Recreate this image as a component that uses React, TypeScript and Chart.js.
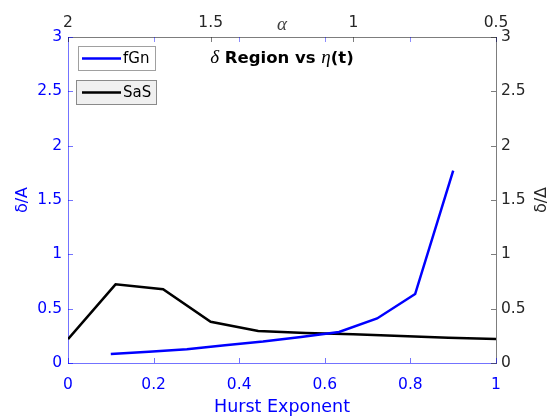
import { useEffect, useRef } from 'react';
import { Chart, registerables } from 'chart.js';

Chart.register(...registerables);

// ---- data ----
const hurstFGn = [0.1, 0.1889, 0.2778, 0.3667, 0.4556, 0.5444, 0.6333, 0.7222, 0.8111, 0.9];
const deltaFGn = [0.083, 0.104, 0.126, 0.164, 0.198, 0.24, 0.286, 0.41, 0.635, 1.77];
const hurstSaS = [0, 0.1111, 0.2222, 0.3333, 0.4444, 0.5556, 0.6667, 0.7778, 0.8889, 1];
const deltaSaS = [0.22, 0.724, 0.678, 0.38, 0.294, 0.277, 0.264, 0.248, 0.233, 0.221];
const alphaTicks = [2, 1.5, 1, 0.5];
const seriesNames = ['fGn', 'SaS'];
const seriesColors = ['#0000ff', '#000000'];

const SANS = '"DejaVu Sans", sans-serif';
const SERIF = '"Liberation Serif", serif';
const AXIS_GREY = '#262626';

const fmt = (v: any) => String(Number(Number(v).toFixed(2)));

const inwardTicks = {
  id: 'inwardTicks',
  afterDatasetsDraw(chart: any) {
    const { ctx, chartArea: a, scales } = chart;
    const L = 5;
    ctx.save();
    ctx.lineWidth = 1;
    const seg = (x1: number, y1: number, x2: number, y2: number, c: string) => {
      ctx.strokeStyle = c;
      ctx.beginPath();
      ctx.moveTo(x1, y1);
      ctx.lineTo(x2, y2);
      ctx.stroke();
    };
    const xb = scales.x;
    xb.ticks.forEach((t: any) => {
      const px = Math.round(xb.getPixelForValue(t.value)) + 0.5;
      seg(px, a.bottom, px, a.bottom - L, 'rgba(0,0,255,0.55)');
      seg(px, a.top, px, a.top + L, 'rgba(0,0,255,0.45)');
    });
    const xt = scales.xTop;
    xt.ticks.forEach((t: any) => {
      const px = Math.round(xt.getPixelForValue(t.value)) + 0.5;
      seg(px, a.top, px, a.top + L, 'rgba(38,38,38,0.6)');
    });
    const yl = scales.y;
    yl.ticks.forEach((t: any) => {
      const py = Math.round(yl.getPixelForValue(t.value)) + 0.5;
      seg(a.left, py, a.left + L, py, 'rgba(0,0,255,0.55)');
    });
    const yr = scales.yRight;
    yr.ticks.forEach((t: any) => {
      const py = Math.round(yr.getPixelForValue(t.value)) + 0.5;
      seg(a.right, py, a.right - L, py, 'rgba(38,38,38,0.6)');
    });
    ctx.restore();
  },
};

const decorations = {
  id: 'decorations',
  afterDraw(chart: any) {
    const { ctx, chartArea: a } = chart;
    ctx.save();
    // title inside plot area
    const parts = [
      { t: '\u03B4', f: `italic 19px ${SERIF}` },
      { t: ' Region vs ', f: `bold 16.5px ${SANS}` },
      { t: '\u03B7', f: `italic 19px ${SERIF}` },
      { t: '(t)', f: `bold 16.5px ${SANS}` },
    ];
    let total = 0;
    const widths = parts.map((p) => {
      ctx.font = p.f;
      const w = ctx.measureText(p.t).width;
      total += w;
      return w;
    });
    let x = (a.left + a.right) / 2 - total / 2;
    ctx.fillStyle = '#000';
    ctx.textBaseline = 'alphabetic';
    ctx.textAlign = 'left';
    parts.forEach((p, i) => {
      ctx.font = p.f;
      ctx.fillText(p.t, x, 63);
      x += widths[i];
    });

    // legend boxes
    const boxes = [
      { x: 78.5, y: 46.5, w: 77, h: 24, fill: '#ffffff', stroke: '#a0a0a0' },
      { x: 76.5, y: 80.5, w: 80, h: 24, fill: '#f0f0f0', stroke: '#8a8a8a' },
    ];
    boxes.forEach((b, i) => {
      ctx.fillStyle = b.fill;
      ctx.fillRect(b.x, b.y, b.w, b.h);
      ctx.strokeStyle = b.stroke;
      ctx.lineWidth = 1;
      ctx.strokeRect(b.x, b.y, b.w, b.h);
      const cy = b.y + b.h / 2;
      ctx.strokeStyle = seriesColors[i];
      ctx.lineWidth = 2.5;
      ctx.beginPath();
      ctx.moveTo(82, cy);
      ctx.lineTo(121, cy);
      ctx.stroke();
      ctx.fillStyle = '#000';
      ctx.font = `15px ${SANS}`;
      ctx.textBaseline = 'middle';
      ctx.fillText(seriesNames[i], 123, cy + 0.5);
    });

    // right axis title, reading bottom to top
    ctx.save();
    ctx.translate(541.5, 200);
    ctx.rotate(-Math.PI / 2);
    ctx.fillStyle = AXIS_GREY;
    ctx.font = `16px ${SANS}`;
    ctx.textAlign = 'center';
    ctx.textBaseline = 'middle';
    ctx.fillText('\u03B4/\u0394', 0, 0);
    ctx.restore();
    ctx.restore();
  },
};

export default function App() {
  const ref = useRef<HTMLCanvasElement>(null);
  useEffect(() => {
    document.body.style.margin = '0';
    const c = ref.current;
    if (!c) return;
    const tickFont = { family: SANS, size: 15.5 };
    const chart = new Chart(c, {
      type: 'line',
      data: {
        datasets: [
          {
            label: seriesNames[0],
            data: hurstFGn.map((h, i) => ({ x: h, y: deltaFGn[i] })),
            borderColor: seriesColors[0],
            backgroundColor: seriesColors[0],
            borderWidth: 2.5,
            pointRadius: 0,
            yAxisID: 'y',
            xAxisID: 'x',
          },
          {
            label: seriesNames[1],
            data: hurstSaS.map((h, i) => ({ x: h, y: deltaSaS[i] })),
            borderColor: seriesColors[1],
            backgroundColor: seriesColors[1],
            borderWidth: 2.5,
            pointRadius: 0,
            yAxisID: 'yRight',
            xAxisID: 'x',
          },
        ],
      },
      options: {
        responsive: false,
        animation: false,
        layout: { padding: 0 },
        plugins: { legend: { display: false }, tooltip: { enabled: false }, title: { display: false } },
        scales: {
          x: {
            type: 'linear',
            position: 'bottom',
            min: 0,
            max: 1,
            ticks: { stepSize: 0.2, color: '#0000ff', font: tickFont, padding: 13, maxRotation: 0, callback: fmt },
            grid: { drawOnChartArea: false, drawTicks: false },
            border: { color: 'rgba(0,0,255,0.55)' },
            title: { display: true, text: 'Hurst Exponent', color: '#0000ff', font: { family: SANS, size: 17.5 }, padding: 2 },
            afterFit: (s: any) => { s.height = 57; },
          },
          xTop: {
            type: 'linear',
            position: 'top',
            min: 0.5,
            max: 2,
            reverse: true,
            afterBuildTicks: (s: any) => { s.ticks = alphaTicks.map((v) => ({ value: v })); },
            ticks: { color: AXIS_GREY, font: tickFont, padding: 5, maxRotation: 0, callback: fmt },
            grid: { drawOnChartArea: false, drawTicks: false },
            border: { color: 'rgba(38,38,38,0.6)' },
            title: { display: true, text: '\u03B1', color: '#404040', font: { family: SERIF, size: 19, style: 'italic' }, padding: 14 },
            afterFit: (s: any) => { s.height = 37; },
          },
          y: {
            type: 'linear',
            position: 'left',
            min: 0,
            max: 3,
            ticks: { stepSize: 0.5, color: '#0000ff', font: tickFont, padding: 6, callback: fmt },
            grid: { drawOnChartArea: false, drawTicks: false },
            border: { color: 'rgba(0,0,255,0.55)' },
            title: { display: true, text: '\u03B4/A', color: '#0000ff', font: { family: SANS, size: 16 }, padding: 13 },
            afterFit: (s: any) => { s.width = 68; },
          },
          yRight: {
            type: 'linear',
            position: 'right',
            min: 0,
            max: 3,
            ticks: { stepSize: 0.5, color: AXIS_GREY, font: tickFont, padding: 5, callback: fmt },
            grid: { drawOnChartArea: false, drawTicks: false },
            border: { color: 'rgba(38,38,38,0.6)' },
            title: { display: false },
            afterFit: (s: any) => { s.width = 54; },
          },
        },
      },
      plugins: [inwardTicks, decorations],
    } as any);
    return () => chart.destroy();
  }, []);
  return (
    <div style={{ width: 550, height: 420 }}>
      <canvas ref={ref} width={550} height={420} style={{ display: 'block' }} />
    </div>
  );
}
